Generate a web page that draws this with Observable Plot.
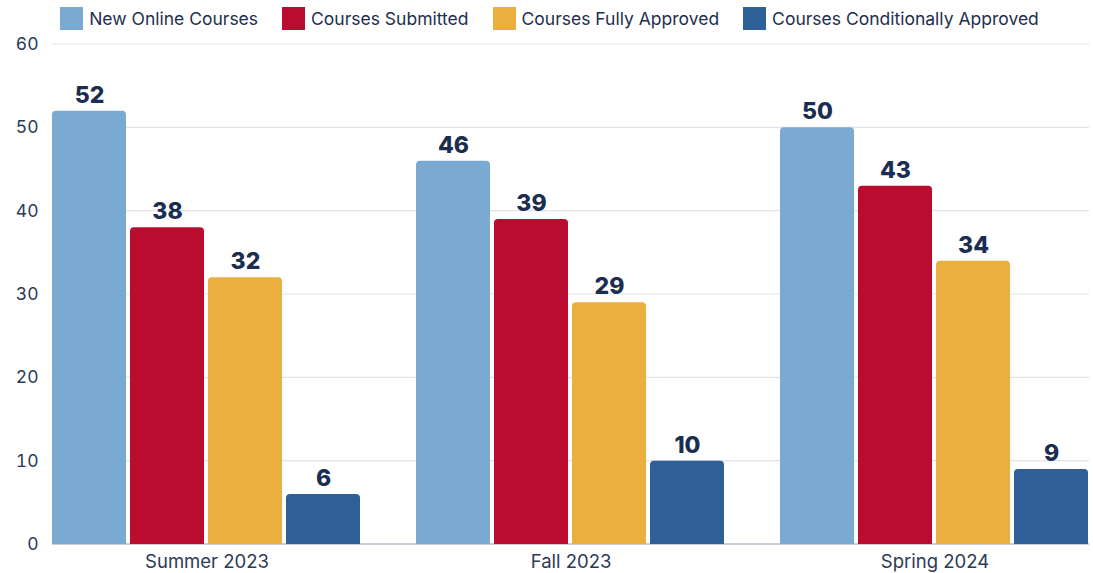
<!DOCTYPE html>
<html>
<head>
<meta charset="utf-8">
<script src="https://cdn.jsdelivr.net/npm/d3@7"></script>
<script src="https://cdn.jsdelivr.net/npm/@observablehq/plot@0.6"></script>
<style>
  body { margin: 0; background: #fff; font-family: Inter, "Noto Sans", sans-serif; }
  #legend { height: 28px; display: flex; justify-content: center; align-items: flex-start; padding-top: 7px; padding-left: 6px; box-sizing: border-box; overflow: visible; }
  .item { display: flex; align-items: center; margin: 0 12px; font-size: 17.5px; color: #1E2E4E; line-height: 23px; }
  .sw { width: 23px; height: 23px; margin-right: 6px; }
  svg { display: block; overflow: visible; }
</style>
</head>
<body>
<div id="legend"></div>
<div id="chart"></div>
<script>
const terms = ["Summer 2023", "Fall 2023", "Spring 2024"];
const series = ["New Online Courses", "Courses Submitted", "Courses Fully Approved", "Courses Conditionally Approved"];
const colors = ["#7AAAD2", "#BA0C2F", "#EBAF3F", "#2E5F96"];
const newOnline = [52, 46, 50];
const submitted = [38, 39, 43];
const fullyApproved = [32, 29, 34];
const conditionallyApproved = [6, 10, 9];
const yTicks = [0, 10, 20, 30, 40, 50, 60];

const values = [newOnline, submitted, fullyApproved, conditionallyApproved];
const data = terms.flatMap((t, i) => series.map((s, j) => ({term: t, series: s, value: values[j][i]})));

const legend = document.getElementById("legend");
series.forEach((s, j) => {
  const it = document.createElement("div");
  it.className = "item";
  it.innerHTML = `<span class="sw" style="background:${colors[j]}"></span><span>${s}</span>`;
  legend.appendChild(it);
});

// full-width gridlines drawn once across all facets, using Plot's y scale
const fullGrid = (index, scales, values, dims) => {
  const g = d3.create("svg:g");
  for (const t of yTicks) {
    const y = scales.y(t);
    g.append("line")
      .attr("x1", dims.marginLeft).attr("x2", dims.width - dims.marginRight)
      .attr("y1", y).attr("y2", y)
      .attr("stroke", t === 0 ? "#C9CDD8" : "#E2E3EA")
      .attr("stroke-width", t === 0 ? 2 : 1.2);
  }
  return g.node();
};

const chart = Plot.plot({
  width: 1093,
  height: 545,
  marginTop: 16,
  marginLeft: 51,
  marginRight: 3,
  marginBottom: 29,
  style: {fontFamily: "Inter, 'Noto Sans', sans-serif", fontSize: "17px", color: "#2B3A55", background: "#fff", overflow: "visible"},
  fx: {domain: terms, paddingInner: 0.15, paddingOuter: 0.002, label: null},
  x: {domain: series, paddingInner: 0.045, paddingOuter: 0, axis: null},
  y: {domain: [0, 60], label: null},
  color: {domain: series, range: colors},
  marks: [
    Plot.frame({facet: "super", stroke: "none", render: fullGrid}),
    Plot.barY(data, {fx: "term", x: "series", y: "value", fill: "series", rx: 4, insetBottom: -8, clip: true}),
    Plot.axisY({ticks: yTicks, tickSize: 0, tickPadding: 14, label: null, fill: "#2B3A55", fontSize: 17.5}),
    Plot.axisFx({anchor: "bottom", tickSize: 0, tickPadding: 10, label: null, fill: "#2B3A55", fontSize: 18.5}),
    Plot.text(data, {fx: "term", x: "series", y: "value", text: d => String(d.value), dy: -16, fill: "#1B2E50", fontSize: 23, fontWeight: 800})
  ]
});
document.getElementById("chart").appendChild(chart);
</script>
</body>
</html>
